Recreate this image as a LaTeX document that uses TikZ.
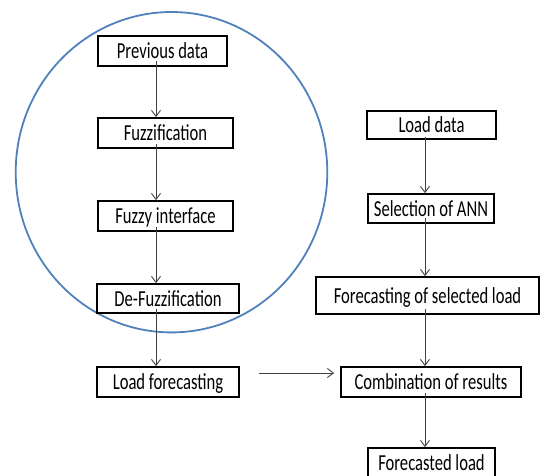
\documentclass[tikz,border=0pt]{standalone}
\usepackage{fontspec}
\usepackage{graphicx}
\setmainfont{Carlito}
\usetikzlibrary{arrows.meta}
\definecolor{circblue}{HTML}{4F81BD}
\definecolor{arrgray}{HTML}{404040}
\newcommand{\tallt}[1]{\scalebox{1}[1.38]{#1}}
\begin{document}
\begin{tikzpicture}[x=1pt,y=-1pt,
  box/.style={draw=black,line width=1.8pt,fill=none,inner sep=0pt,text height=15pt,text depth=0pt,font=\fontsize{16.6}{19}\selectfont},
  arr/.style={draw=arrgray,line width=0.9pt,-{Straight Barb[length=6pt,width=9pt,line width=0.9pt]}}]
\useasboundingbox (0,0) rectangle (542,475);
\draw[circblue,line width=1.8pt] (171.5,172.2) ellipse [x radius=155.8, y radius=160.2];
\node[box,minimum width=129pt,minimum height=30pt] (prev) at (162.5,51) {\tallt{Previous data}};
\node[box,minimum width=135pt,minimum height=30pt] (fuzz) at (165.5,133) {\tallt{Fuzzification}};
\node[box,minimum width=135pt,minimum height=30pt] (fint) at (165.5,216) {\tallt{Fuzzy interface}};
\node[box,minimum width=142pt,minimum height=29pt] (defz) at (168,298.5) {\tallt{De-Fuzzification}};
\node[box,minimum width=142pt,minimum height=30pt] (lfc) at (168,382) {\tallt{Load forecasting}};
\node[box,minimum width=129pt,minimum height=28pt] (ldata) at (431.5,125) {\tallt{Load data}};
\node[box,minimum width=126pt,minimum height=29pt] (ann) at (431,208.5) {\tallt{Selection of ANN}};
\node[box,minimum width=223pt,minimum height=37pt] (fsel) at (427.5,295.5) {\tallt{Forecasting of selected load}};
\node[box,minimum width=180pt,minimum height=30pt] (comb) at (431,382) {\tallt{Combination of results}};
\node[box,minimum width=127pt,minimum height=30pt] (fload) at (431.5,463) {\tallt{Forecasted load}};
\coordinate (lx) at (156,0);
\coordinate (rx) at (425,0);
\draw[arr] ([yshift=6pt]prev.south -| lx) -- (fuzz.north -| lx);
\draw[arr] ([yshift=5pt]fuzz.south -| lx) -- (fint.north -| lx);
\draw[arr] ([yshift=5pt]fint.south -| lx) -- (defz.north -| lx);
\draw[arr] ([yshift=5pt]defz.south -| lx) -- (lfc.north -| lx);
\draw[arr] ([yshift=3pt]ldata.south -| rx) -- (ann.north -| rx);
\draw[arr] ([yshift=6pt]ann.south -| rx) -- (fsel.north -| rx);
\draw[arr] ([yshift=6pt]fsel.south -| rx) -- (comb.north -| rx);
\draw[arr] ([yshift=5pt]comb.south -| rx) -- (fload.north -| rx);
\draw[arr] ([xshift=19pt,yshift=9pt]lfc.east) -- ([xshift=-6pt,yshift=9pt]comb.west);
\end{tikzpicture}
\end{document}
